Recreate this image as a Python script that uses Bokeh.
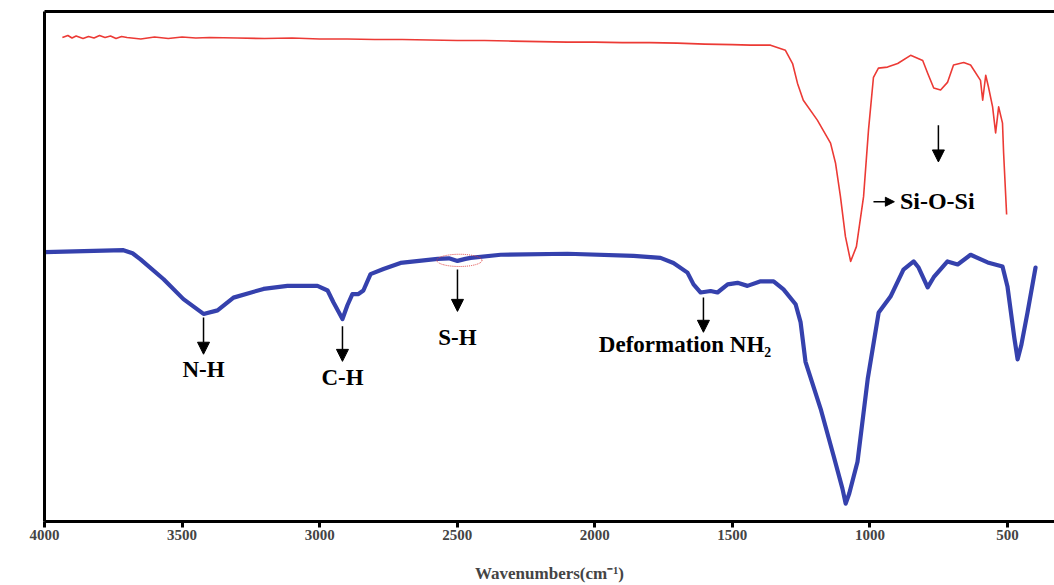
import math
from bokeh.plotting import figure
from bokeh.models import Range1d, FixedTicker, LinearAxis, Arrow, NormalHead, ColumnDataSource, Label
from bokeh.core.properties import value
from bokeh.embed import file_html
from bokeh.resources import INLINE

# ---- data ----
red_wn = [3935, 3915, 3900, 3885, 3860, 3840, 3820, 3800, 3780, 3760, 3740, 3720, 3700, 3650, 3600, 3550, 3500, 3450, 3400, 3300,
          3200, 3100, 3000, 2900, 2800, 2700, 2600, 2500, 2400, 2300, 2200, 2100, 2000, 1900, 1800, 1700, 1600, 1500, 1434, 1361,
          1307, 1281, 1263, 1242, 1191, 1143, 1125, 1107, 1089, 1070, 1049, 1023, 1005, 987, 969, 936, 899, 852, 808, 790,
          768, 743, 718, 696, 659, 634, 598, 590, 579, 569, 554, 543, 532, 518, 514, 503]
red_t = [94.9, 95.3, 94.8, 95.2, 94.7, 95.1, 94.8, 95.3, 94.9, 95.2, 94.7, 95.1, 94.9, 94.6, 95.0, 94.7, 95.0, 94.8, 94.9, 94.8,
         94.7, 94.8, 94.6, 94.6, 94.5, 94.5, 94.4, 94.3, 94.3, 94.2, 94.1, 94.0, 94.0, 93.9, 93.9, 93.8, 93.6, 93.5, 93.4, 93.4,
         92.4, 89.8, 85.9, 82.6, 78.7, 74.2, 70.3, 63.7, 55.9, 51.0, 53.9, 63.7, 76.8, 87.1, 88.9, 89.1, 89.8, 91.4, 90.4, 87.9,
         85.0, 84.6, 86.1, 89.5, 90.0, 89.5, 86.5, 82.6, 87.5, 85.2, 81.3, 76.2, 81.3, 78.1, 72.3, 60.2]

blue_wn = [4000, 3713, 3680, 3651, 3567, 3495, 3422, 3371, 3313, 3204, 3117, 3008, 2971, 2950, 2917, 2899, 2881, 2859, 2841, 2815,
           2768, 2706, 2571, 2530, 2499, 2470, 2451, 2342, 2099, 1859, 1761, 1714, 1663, 1641, 1615, 1579, 1554, 1517, 1481, 1445,
           1397, 1350, 1314, 1270, 1252, 1234, 1179, 1132, 1100, 1088, 1075, 1045, 1008, 968, 925, 878, 841, 823, 790, 768,
           718, 681, 634, 572, 518, 500, 475, 463, 450, 427, 398]
blue_t = [52.8, 53.2, 52.6, 51.4, 47.5, 43.6, 40.7, 41.4, 43.9, 45.6, 46.2, 46.2, 45.3, 43.0, 39.7, 42.4, 44.6, 44.6, 45.3, 48.5,
          49.5, 50.7, 51.5, 51.6, 51.1, 51.5, 51.7, 52.3, 52.5, 52.1, 51.7, 50.7, 48.8, 46.5, 44.9, 45.2, 44.9, 46.5, 46.8, 46.2,
          47.1, 47.1, 45.5, 42.6, 39.1, 31.3, 22.1, 12.9, 6.5, 3.5, 5.5, 11.7, 27.9, 41.0, 44.1, 49.4, 51.0, 49.8, 45.9, 47.9,
          51.0, 50.4, 52.3, 50.8, 50.0, 46.1, 36.0, 31.8, 34.5, 41.0, 49.8]

x_ticks = [4000, 3500, 3000, 2500, 2000, 1500, 1000, 500]

# annotations
ann_labels = ["N-H", "C-H", "S-H", "Deformation NH\u2082"]
ann_x = [3422, 2917, 2499, 1605]
ann_y0 = [40.0, 38.3, 49.4, 43.9]
ann_y1 = [32.8, 31.4, 41.2, 37.1]
ann_lx = [3422, 2917, 2499, 1672]
ann_ly = [29.9, 28.3, 36.1, 34.8]

sio_arrow = (751, 77.7, 70.5)
sio_right = (987, 911, 62.7)
sio_label = (891, 62.9)
sh_ellipse = (2492, 51.2, 164, 2.4)

FONT = "Liberation Serif"

p = figure(width=1054, height=585, output_backend="svg", toolbar_location=None,
           x_range=Range1d(4000, 329), y_range=Range1d(0, 100),
           min_border_left=44, min_border_right=0, min_border_top=11, min_border_bottom=62)
p.outline_line_color = None
p.grid.visible = False
p.background_fill_color = "white"
p.border_fill_color = "white"

p.line(red_wn, red_t, line_color="#ec3a35", line_width=1.6, line_join="round")
p.line(blue_wn, blue_t, line_color="#3541ad", line_width=4.2, line_join="round", line_cap="round")

# x axis
xa = p.xaxis[0]
xa.ticker = FixedTicker(ticks=x_ticks)
xa.axis_line_width = 3
xa.major_tick_line_width = 3
xa.major_tick_out = 6
xa.major_tick_in = 0
xa.minor_tick_line_color = None
xa.major_label_text_font = FONT
xa.major_label_text_font_style = "bold"
xa.major_label_text_font_size = "15px"
xa.major_label_standoff = 2
xa.axis_label = "Wavenumbers(cm\u207b\u00b9)"
xa.axis_label_text_font = FONT
xa.axis_label_text_font_style = "bold"
xa.axis_label_text_font_size = "17px"
xa.axis_label_standoff = 21

# y axis (line only)
ya = p.yaxis[0]
ya.ticker = FixedTicker(ticks=[])
ya.axis_line_width = 3
ya.major_tick_line_color = None
ya.minor_tick_line_color = None
ya.major_label_text_font_size = "0px"
ya.major_label_standoff = 0

# y title placed like the reference (slightly above frame centre)
p.add_layout(Label(x=4087, y=55.1, text="Transmittance (%)", angle=math.pi / 2,
                   text_font=FONT, text_font_style="bold", text_font_size="16.5px",
                   text_align="center", text_baseline="middle", text_color="black"))

# top frame line
top = LinearAxis(ticker=FixedTicker(ticks=[]), axis_line_width=3, major_tick_line_color=None,
                 minor_tick_line_color=None, major_label_text_font_size="0px")
p.add_layout(top, "above")

# annotations
for i in range(len(ann_labels)):
    p.add_layout(Arrow(end=NormalHead(size=12, fill_color="black", line_color="black"),
                       x_start=ann_x[i], y_start=ann_y0[i], x_end=ann_x[i], y_end=ann_y1[i],
                       line_width=1.5, line_color="black"))
src = ColumnDataSource(dict(x=ann_lx, y=ann_ly, t=ann_labels))
p.text(x="x", y="y", text="t", source=src, text_font=value(FONT), text_font_style="bold",
       text_font_size="23px", text_align="center", text_baseline="middle", text_color="black")

p.add_layout(Arrow(end=NormalHead(size=12, fill_color="black", line_color="black"),
                   x_start=sio_arrow[0], y_start=sio_arrow[1], x_end=sio_arrow[0], y_end=sio_arrow[2],
                   line_width=1.5, line_color="black"))
p.add_layout(Arrow(end=NormalHead(size=9, fill_color="black", line_color="black"),
                   x_start=sio_right[0], y_start=sio_right[2], x_end=sio_right[1], y_end=sio_right[2],
                   line_width=1.5, line_color="black"))
p.text(x=[sio_label[0]], y=[sio_label[1]], text=["Si-O-Si"], text_font=value(FONT), text_font_style="bold",
       text_font_size="24px", text_align="left", text_baseline="middle", text_color="black")

p.ellipse(x=[sh_ellipse[0]], y=[sh_ellipse[1]], width=[sh_ellipse[2]], height=[sh_ellipse[3]],
          fill_color=None, line_color="#e04040", line_dash="1 1", line_width=1)

open("out.html", "w").write(file_html(p, INLINE))
